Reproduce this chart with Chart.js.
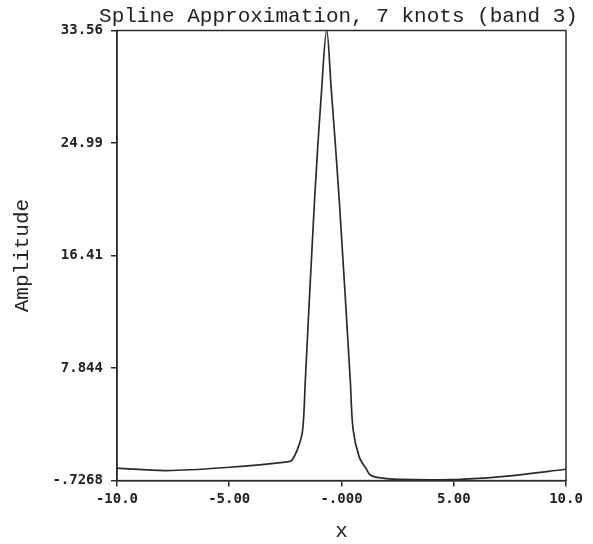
<!DOCTYPE html>
<html>
<head>
<meta charset="utf-8">
<script src="https://cdn.jsdelivr.net/npm/chart.js@4"></script>
<style>
  html, body { margin: 0; padding: 0; background: #ffffff; }
  canvas { display: block; }
</style>
</head>
<body>
<canvas id="c" width="593" height="544"></canvas>
<script>
// ---- data ----
const xValues = [-10, -7.8, -5, -2.41, -2.2, -1.92, -1.73, -1.61, -1.2, -0.88, -0.66,
                 -0.46, -0.10, 0.39, 0.52, 0.79, 1.13, 1.28, 1.58, 2.61, 4.84, 6.49, 7.51, 10];
const yValues = [0.22, 0.04, 0.29, 0.70, 0.85, 1.84, 3.13, 6.94, 20.65, 29.18, 33.56,
                 29.18, 20.65, 6.94, 3.13, 1.08, 0.09, -0.30, -0.48, -0.64, -0.66, -0.52, -0.37, 0.14];

const xTickValues = [-10, -5, 0, 5, 10];
const xTickLabels = ["-10.0", "-5.00", "-.000", "5.00", "10.0"];
const yTickValues = [-0.7268, 7.844, 16.41, 24.99, 33.56];
const yTickLabels = ["-.7268", "7.844", "16.41", "24.99", "33.56"];

const titleText = "Spline Approximation, 7 knots (band 3)";
const xTitle = "x";
const yTitle = "Amplitude";

const points = xValues.map((x, i) => ({ x: x, y: yValues[i] }));

const ink = '#2b2b2b';

// frame around the plot area and the title (drawn without width compression)
const frame = {
  id: 'frame',
  afterDatasetsDraw(chart) {
    const { ctx, chartArea: a } = chart;
    ctx.save();
    ctx.strokeStyle = ink;
    ctx.lineWidth = 1.5;
    ctx.strokeRect(a.left, a.top, a.right - a.left, a.bottom - a.top);
    ctx.restore();
  },
  afterDraw(chart) {
    const { ctx, chartArea: a } = chart;
    ctx.save();
    ctx.fillStyle = '#222';
    ctx.font = 'normal 21px "Liberation Mono"';
    ctx.textAlign = 'center';
    ctx.textBaseline = 'alphabetic';
    ctx.fillText(titleText, (a.left + a.right) / 2 - 3, a.top - 9);
    ctx.restore();
  }
};

new Chart(document.getElementById('c'), {
  type: 'line',
  data: {
    datasets: [{
      data: points,
      borderColor: ink,
      borderWidth: 1.7,
      pointRadius: 0,
      fill: false,
      tension: 0.35
    }]
  },
  options: {
    responsive: false,
    animation: false,
    layout: { padding: { top: 30.5, right: 27, bottom: 0, left: 0 } },
    plugins: {
      legend: { display: false },
      tooltip: { enabled: false },
      title: { display: false }
    },
    scales: {
      x: {
        type: 'linear',
        min: -10,
        max: 10,
        afterBuildTicks: (s) => { s.ticks = xTickValues.map(v => ({ value: v })); },
        ticks: {
          autoSkip: false,
          maxRotation: 0,
          padding: 4,
          color: '#222',
          font: { family: 'DejaVu Sans Mono', size: 14, weight: 'bold' },
          callback: (v) => { const i = xTickValues.indexOf(v); return i >= 0 ? xTickLabels[i] : ''; }
        },
        grid: { display: true, drawOnChartArea: false, drawTicks: true, tickLength: 6, color: ink, lineWidth: 1.5 },
        border: { display: true, color: ink, width: 1.5 },
        title: {
          display: true,
          text: xTitle,
          color: '#222',
          font: { family: 'Liberation Mono', size: 21, weight: 'normal' },
          padding: { top: 7, bottom: 0.4 }
        }
      },
      y: {
        type: 'linear',
        min: -0.7268,
        max: 33.56,
        afterBuildTicks: (s) => { s.ticks = yTickValues.map(v => ({ value: v })); },
        ticks: {
          autoSkip: false,
          padding: 8,
          color: '#222',
          font: { family: 'DejaVu Sans Mono', size: 14, weight: 'bold' },
          callback: (v) => { const i = yTickValues.indexOf(v); return i >= 0 ? yTickLabels[i] : ''; }
        },
        grid: { display: true, drawOnChartArea: false, drawTicks: true, tickLength: 6, color: ink, lineWidth: 1.5 },
        border: { display: true, color: ink, width: 1.5 },
        title: {
          display: true,
          text: yTitle,
          color: '#222',
          font: { family: 'Liberation Mono', size: 21, weight: 'normal' },
          padding: { top: 9.4, bottom: 9.8 }
        }
      }
    }
  },
  plugins: [frame]
});
</script>
</body>
</html>
